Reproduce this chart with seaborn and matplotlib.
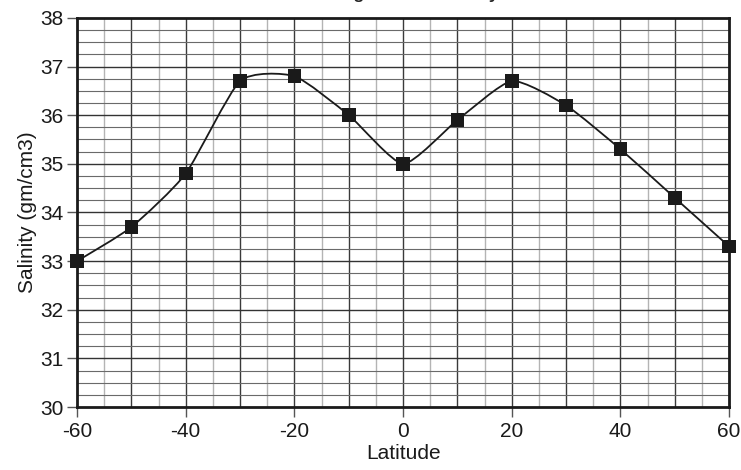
import numpy as np
import pandas as pd
import matplotlib
matplotlib.use("Agg")
import matplotlib.pyplot as plt
from matplotlib.path import Path
from matplotlib.patches import PathPatch
from matplotlib.ticker import MultipleLocator
import seaborn as sns

# Salinity readings by latitude
latitude = [-60, -50, -40, -30, -20, -10, 0, 10, 20, 30, 40, 50, 60]
salinity = [33.0, 33.7, 34.8, 36.7, 36.8, 36.0, 35.0, 35.9, 36.7, 36.2, 35.3, 34.3, 33.3]
title = "Average Ocean Salinity"

df = pd.DataFrame({"Latitude": latitude, "Salinity": salinity})

sns.set_style("white")
plt.rcParams["font.family"] = ["Liberation Sans", "DejaVu Sans"]
plt.rcParams["axes.unicode_minus"] = False

fig, ax = plt.subplots(figsize=(7.41, 4.70), dpi=100)
fig.subplots_adjust(left=0.104, right=0.984, top=0.962, bottom=0.134)

ax.set_xlim(-60, 60)
ax.set_ylim(30, 38)

# graph-paper grid
ax.xaxis.set_major_locator(MultipleLocator(20))
ax.yaxis.set_major_locator(MultipleLocator(1))
for v in np.arange(-55, 60, 5):
    c = "#3a3a3a" if v % 10 == 0 else "#b4b4b4"
    ax.axvline(v, color=c, lw=1.0, zorder=0)
for v in np.arange(30.25, 38, 0.25):
    major = abs(v - round(v)) < 1e-9
    ax.axhline(v, color="#333333" if major else "#6a6a6a",
               lw=1.0 if major else 0.8, zorder=0)

# smooth curve through the points (low-tension cubic Bezier segments)
pts = np.column_stack([latitude, salinity]).astype(float)
ext = np.vstack([pts[0], pts, pts[-1]])
k = 1 / 10.0
verts = [tuple(pts[0])]
codes = [Path.MOVETO]
for i in range(1, len(ext) - 2):
    p0, p1, p2, p3 = ext[i - 1], ext[i], ext[i + 1], ext[i + 2]
    c1 = p1 + (p2 - p0) * k
    c2 = p2 - (p3 - p1) * k
    verts += [tuple(c1), tuple(c2), tuple(p2)]
    codes += [Path.CURVE4] * 3
ax.add_patch(PathPatch(Path(verts, codes), facecolor="none", edgecolor="#1a1a1a",
                       lw=1.3, zorder=3))

sns.scatterplot(data=df, x="Latitude", y="Salinity", marker="s", s=95,
                color="#1a1a1a", edgecolor="none", zorder=4, clip_on=False, ax=ax)

for s in ax.spines.values():
    s.set_color("#1a1a1a")
    s.set_linewidth(2.0)
ax.tick_params(which="major", direction="out", length=7, width=1, color="#555555",
               labelsize=15, left=True, bottom=True, labelcolor="#1a1a1a")
ax.tick_params(axis="x", pad=4)
ax.tick_params(axis="y", pad=3)
ax.set_xlabel("Latitude", fontsize=15, labelpad=2, color="#1a1a1a")
ax.set_ylabel("Salinity (gm/cm3)", fontsize=15, labelpad=2, color="#1a1a1a")

# title sits almost entirely above the top edge, as in the source image
fig.text(0.543, 1 + 1 / 470, title, ha="center", va="baseline",
         fontsize=12.5, fontweight="bold")

fig.savefig("out.png", dpi=100)
